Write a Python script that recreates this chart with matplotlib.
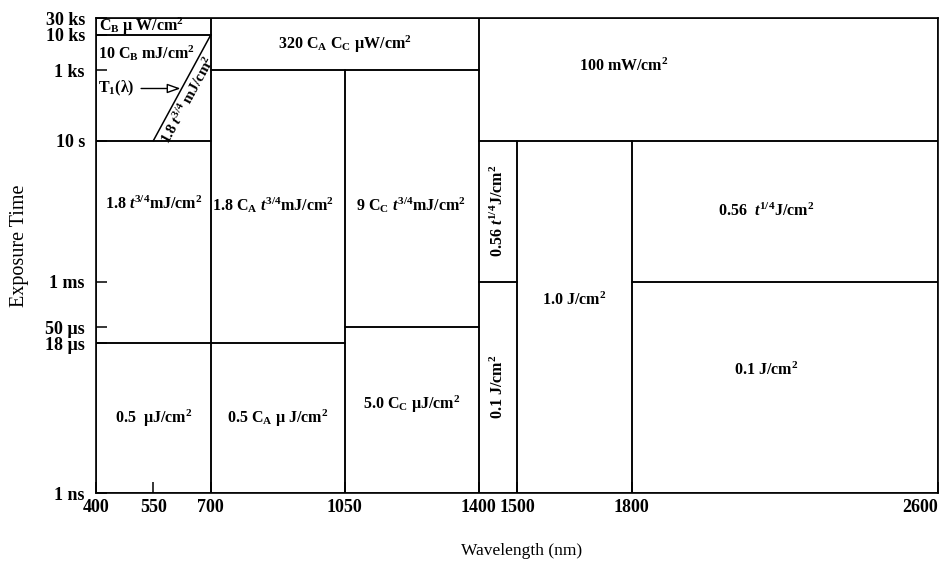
"""Laser exposure limits chart: wavelength vs exposure time regions."""

import matplotlib.pyplot as plt
import numpy as np
from matplotlib.patches import Rectangle

plt.rcParams["font.family"] = "serif"
plt.rcParams["font.serif"] = ["Liberation Serif", "DejaVu Serif"]
plt.rcParams["mathtext.fontset"] = "custom"
plt.rcParams["mathtext.rm"] = "Liberation Serif:bold"
plt.rcParams["mathtext.it"] = "Liberation Serif:italic:bold"
plt.rcParams["mathtext.bf"] = "Liberation Serif:bold"

# Region limits: wavelength (nm) and exposure time (s)
wl_lo = [400, 400, 400, 400, 700, 700, 1050, 1050, 700, 1400, 1400, 1500, 1800, 1800, 1400]
wl_hi = [700, 700, 700, 700, 1050, 1050, 1400, 1400, 1400, 1500, 1500, 1800, 2600, 2600, 2600]
t_lo = [1e-9, 18e-6, 10, 1e4, 1e-9, 18e-6, 1e-9, 50e-6, 1e3, 1e-9, 1e-3, 1e-9, 1e-9, 1e-3, 10]
t_hi = [18e-6, 10, 1e4, 3e4, 18e-6, 1e3, 50e-6, 1e3, 3e4, 1e-3, 10, 10, 1e-3, 10, 3e4]

labels = [
    "0.5  µJ/cm$^2$",
    "1.8 $t^{3/4}$mJ/cm$^2$",
    "10 C$_\\mathrm{B}$ mJ/cm$^2$",
    "C$_\\mathrm{B}$ µ W/cm$^2$",
    "0.5 C$_\\mathrm{A}$ µ J/cm$^2$",
    "1.8 C$_\\mathrm{A}$ $t^{3/4}$mJ/cm$^2$",
    "5.0 C$_\\mathrm{C}$ µJ/cm$^2$",
    "9 C$_\\mathrm{C}$ $t^{3/4}$mJ/cm$^2$",
    "320 C$_\\mathrm{A}$ C$_\\mathrm{C}$ µW/cm$^2$",
    "0.1 J/cm$^2$",
    "0.56 $t^{1/4}$J/cm$^2$",
    "1.0 J/cm$^2$",
    "0.1 J/cm$^2$",
    "0.56  $t^{1/4}$J/cm$^2$",
    "100 mW/cm$^2$",
]

# T1(lambda) boundary inside the 400-700 nm, 10 s - 10 ks region
t1_wl = [550, 700]
t1_time = [10, 1e4]
t1_label = "1.8 $t^{3/4}$ mJ/cm$^2$"

x_ticks = [400, 550, 700, 1050, 1400, 1500, 1800, 2600]
y_ticks = [1e-9, 18e-6, 50e-6, 1e-3, 10, 1e3, 1e4, 3e4]
y_tick_labels = ["1 ns", "18 µs", "50 µs", "1 ms", "10 s", "1 ks", "10 ks", "30 ks"]

# label placement (layout only)
lab_x = [550, 550, 404, 408, 875, 862, 1225, 1222, 1050, 1450, 1450, 1650, 2150, 2150, 1780]
lab_t = [1.35e-7, 0.15, 3000, 1.7e4, 1.35e-7, 0.15, 3.2e-7, 0.15, 5500,
         1e-6, 0.1, 3e-4, 3e-6, 0.1, 1300]
lab_ha = ["center"] * 15
lab_ha[2] = "left"
lab_ha[3] = "left"
lab_rot = [0] * 15
lab_rot[9] = 90
lab_rot[10] = 90

fig = plt.figure(figsize=(9.43, 5.63), dpi=100)
ax = fig.add_axes([96 / 943, 1 - 493 / 563, 842 / 943, 475 / 563])
ax.set_yscale("log")
ax.set_xlim(400, 2600)
ax.set_ylim(1e-9, 3e4)

for x0, x1, y0, y1 in zip(wl_lo, wl_hi, t_lo, t_hi):
    ax.add_patch(Rectangle((x0, y0), x1 - x0, y1 - y0, fill=False,
                           edgecolor="black", linewidth=1.1))

for text, x, t, ha, rot in zip(labels, lab_x, lab_t, lab_ha, lab_rot):
    ax.text(x, t, text, ha=ha, va="center", rotation=rot,
            fontsize=11.5, fontweight="bold")

# T1 diagonal
ax.plot(t1_wl, t1_time, color="black", linewidth=1.1)

# text along the diagonal
p0 = ax.transData.transform((t1_wl[0], t1_time[0]))
p1 = ax.transData.transform((t1_wl[1], t1_time[1]))
angle = np.degrees(np.arctan2(p1[1] - p0[1], p1[0] - p0[0]))
t_mid = 10 ** 2.3
wl_mid = np.interp(np.log10(t_mid), np.log10(t1_time), t1_wl)
off = 2.5
ax.annotate(t1_label, xy=(wl_mid, t_mid),
            xytext=(off * np.sin(np.radians(angle)), -off * np.cos(np.radians(angle))),
            textcoords="offset points", rotation=angle, rotation_mode="anchor",
            ha="center", va="top", fontsize=11, fontweight="bold")

# T1(lambda) pointer
t_arrow = 300
wl_arrow = np.interp(np.log10(t_arrow), np.log10(t1_time), t1_wl)
ax.annotate("T$_1$(λ)", xy=(wl_arrow - 3, t_arrow), xytext=(404, t_arrow),
            ha="left", va="center", fontsize=11.5, fontweight="bold",
            arrowprops=dict(arrowstyle="-|>,head_length=0.7,head_width=0.25",
                            facecolor="white", edgecolor="black", linewidth=1,
                            shrinkA=3, shrinkB=0))

ax.set_xticks(x_ticks)
ax.set_xticklabels([str(v) for v in x_ticks])
ax.set_yticks(y_ticks)
ax.set_yticklabels(y_tick_labels)
ax.minorticks_off()
ax.tick_params(axis="both", direction="in", length=8, width=1.1,
               labelsize=13)
ax.tick_params(axis="y", pad=8)
ax.tick_params(axis="x", pad=4)
for lab in ax.get_xticklabels() + ax.get_yticklabels():
    lab.set_fontweight("bold")
ax.get_xticklabels()[-1].set_horizontalalignment("right")
for spine in ax.spines.values():
    spine.set_linewidth(1.2)

ax.set_xlabel("Wavelength (nm)", fontsize=12.5)
ax.set_ylabel("Exposure Time", fontsize=14.5)
ax.xaxis.set_label_coords(0.505, -0.105)
ax.yaxis.set_label_coords(-0.08, 0.52)

fig.savefig("out.png", dpi=100)
